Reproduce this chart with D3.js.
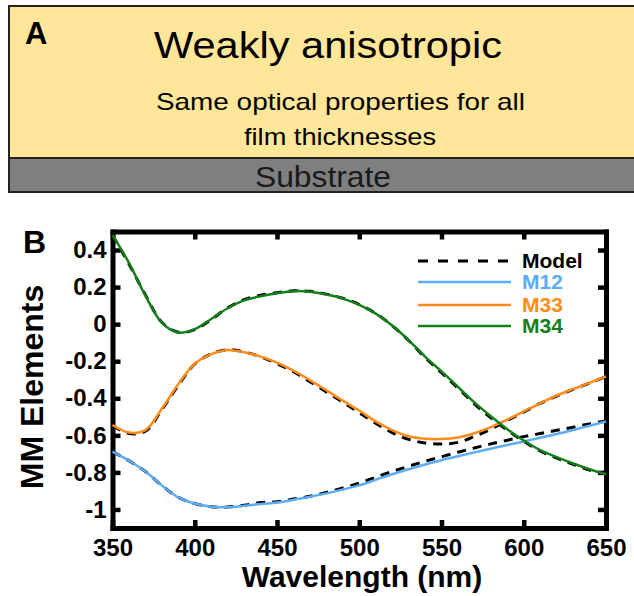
<!DOCTYPE html>
<html>
<head>
<meta charset="utf-8">
<style>
	body { margin: 0; background: white; }
	svg { display: block; font-family: "Liberation Sans", Arial, sans-serif; }
	.axis path { fill: none; stroke: black; stroke-width: 5px; stroke-linecap: square; }
	.axis line { stroke: black; stroke-width: 4.5px; }
	.axis text { font-size: 24px; font-weight: bold; fill: black; font-family: "Liberation Sans", Arial, sans-serif; }
	.curve { fill: none; stroke-width: 2.5px; }
	.model { fill: none; stroke: black; stroke-width: 3px; stroke-dasharray: 9,7; }
</style>
<script src="https://cdn.jsdelivr.net/npm/d3@7"></script>
</head>
<body>
<script>
	// wavelengths (nm) and Mueller matrix elements
	var wavelength = [350, 360, 370, 380, 390, 400, 410, 420, 430, 440, 450, 460, 470, 480, 490, 500,
	                  510, 520, 530, 540, 550, 560, 570, 580, 590, 600, 610, 620, 630, 640, 650];

	var m12 = [-0.688, -0.737, -0.795, -0.870, -0.935, -0.968, -0.985, -0.988, -0.980, -0.970, -0.963,
	           -0.947, -0.931, -0.913, -0.892, -0.870, -0.840, -0.810, -0.783, -0.757, -0.734, -0.713,
	           -0.692, -0.672, -0.652, -0.633, -0.613, -0.593, -0.571, -0.548, -0.525];
	var m33 = [-0.544, -0.585, -0.572, -0.457, -0.324, -0.214, -0.162, -0.139, -0.152, -0.175, -0.208,
	           -0.251, -0.302, -0.357, -0.413, -0.466, -0.525, -0.572, -0.605, -0.618, -0.620, -0.612,
	           -0.589, -0.556, -0.515, -0.471, -0.427, -0.385, -0.351, -0.317, -0.282];
	var m34 = [0.480, 0.331, 0.154, 0.008, -0.046, -0.027, 0.028, 0.086, 0.128, 0.151, 0.167, 0.178,
	           0.175, 0.160, 0.138, 0.104, 0.057, -0.007, -0.086, -0.175, -0.255, -0.338, -0.422,
	           -0.497, -0.567, -0.628, -0.680, -0.718, -0.752, -0.783, -0.810];

	var model12 = [-0.688, -0.737, -0.795, -0.870, -0.935, -0.968, -0.985, -0.987, -0.977, -0.963, -0.958,
	               -0.944, -0.929, -0.908, -0.884, -0.858, -0.826, -0.795, -0.767, -0.740, -0.715, -0.691,
	               -0.668, -0.646, -0.626, -0.607, -0.590, -0.573, -0.556, -0.538, -0.522];
	var model33 = [-0.548, -0.590, -0.578, -0.462, -0.330, -0.215, -0.160, -0.138, -0.150, -0.176, -0.213,
	               -0.257, -0.310, -0.366, -0.420, -0.478, -0.535, -0.585, -0.622, -0.641, -0.647, -0.638,
	               -0.606, -0.566, -0.520, -0.474, -0.428, -0.388, -0.352, -0.318, -0.283];
	var model34 = [0.480, 0.325, 0.158, 0.010, -0.044, -0.030, 0.025, 0.088, 0.132, 0.156, 0.170, 0.180,
	               0.177, 0.162, 0.140, 0.106, 0.058, -0.008, -0.088, -0.180, -0.262, -0.345, -0.430,
	               -0.505, -0.572, -0.632, -0.684, -0.722, -0.756, -0.787, -0.810];

	var xTicks = [350, 400, 450, 500, 550, 600, 650];
	var yTicks = [0.4, 0.2, 0, -0.2, -0.4, -0.6, -0.8, -1];

	var legendLabels = ["Model", "M12", "M33", "M34"];
	var seriesColors = ["black", "#5aacf4", "#ff8c1a", "#13801a"];

	function draw() {
		"use strict";
		var width = 634, height = 596;

		var svg = d3.select("body")
		  .append("svg")
		    .attr("width", width)
		    .attr("height", height);

		// ---- panel A : layer sketch ----
		var a = svg.append("g");
		a.append("rect")
			.attr("x", 9).attr("y", 6).attr("width", 640).attr("height", 152)
			.attr("fill", "#ffe699").attr("stroke", "#222").attr("stroke-width", 2);
		a.append("rect")
			.attr("x", 9).attr("y", 158).attr("width", 640).attr("height", 34)
			.attr("fill", "#7f7f7f").attr("stroke", "#222").attr("stroke-width", 2);

		a.append("text").attr("x", 25).attr("y", 44)
			.style("font-size", "31px").style("font-weight", "bold").text("A");
		a.append("text").attr("x", 154).attr("y", 58)
			.attr("textLength", 348).attr("lengthAdjust", "spacingAndGlyphs")
			.style("font-size", "37px").text("Weakly anisotropic");
		a.append("text").attr("x", 156).attr("y", 110)
			.attr("textLength", 369).attr("lengthAdjust", "spacingAndGlyphs")
			.style("font-size", "24px").text("Same optical properties for all");
		a.append("text").attr("x", 244).attr("y", 145)
			.attr("textLength", 192).attr("lengthAdjust", "spacingAndGlyphs")
			.style("font-size", "24px").text("film thicknesses");
		a.append("text").attr("x", 255).attr("y", 187)
			.attr("textLength", 136).attr("lengthAdjust", "spacingAndGlyphs")
			.style("font-size", "29px").style("fill", "#1a1a1a").text("Substrate");

		// ---- panel B : MM spectra ----
		var x_scale = d3.scaleLinear().domain([350, 650]).range([112.5, 606]);
		var y_scale = d3.scaleLinear().domain([-1.1, 0.5]).range([528, 231.5]);

		var fmt = function(d){ return String(d); };

		svg.append("g").attr("class", "x axis")
			.attr("transform", "translate(0,528)")
			.call(d3.axisBottom(x_scale).tickValues(xTicks).tickSize(-8).tickSizeOuter(0).tickPadding(11).tickFormat(fmt));
		svg.append("g").attr("class", "x axis top")
			.attr("transform", "translate(0,231.5)")
			.call(d3.axisTop(x_scale).tickValues(xTicks).tickSize(-8).tickSizeOuter(0).tickFormat(""));
		svg.append("g").attr("class", "y axis")
			.attr("transform", "translate(112.5,0)")
			.call(d3.axisLeft(y_scale).tickValues(yTicks).tickSize(-8).tickSizeOuter(0).tickPadding(6).tickFormat(fmt));
		svg.append("g").attr("class", "y axis right")
			.attr("transform", "translate(606,0)")
			.call(d3.axisRight(y_scale).tickValues(yTicks).tickSize(-8).tickSizeOuter(0).tickFormat(""));

		var line = function(vals) {
			return d3.line()
				.x(function(d, i){ return x_scale(wavelength[i]); })
				.y(function(d){ return y_scale(d); })
				.curve(d3.curveCatmullRom.alpha(0.5))(vals);
		};

		[model12, model33, model34].forEach(function(s){
			svg.append("path").attr("class", "model").attr("d", line(s));
		});
		[m12, m33, m34].forEach(function(s, i){
			svg.append("path").attr("class", "curve")
				.attr("stroke", seriesColors[i + 1]).attr("d", line(s));
		});

		// legend
		var legY = [261, 282, 305, 326];
		var leg = svg.append("g").selectAll("g").data(legendLabels).enter().append("g");
		leg.append("line")
			.attr("x1", 418).attr("x2", 511)
			.attr("y1", function(d, i){ return legY[i]; })
			.attr("y2", function(d, i){ return legY[i]; })
			.attr("stroke", function(d, i){ return seriesColors[i]; })
			.attr("stroke-width", function(d, i){ return i === 0 ? 3 : 2.5; })
			.attr("stroke-dasharray", function(d, i){ return i === 0 ? "10,10" : null; });
		leg.append("text")
			.attr("x", 522)
			.attr("y", function(d, i){ return legY[i] + 7; })
			.style("font-size", "21px").style("font-weight", "bold")
			.style("fill", function(d, i){ return seriesColors[i]; })
			.text(function(d){ return d; });

		svg.append("text").attr("x", 23).attr("y", 253)
			.style("font-size", "32px").style("font-weight", "bold").text("B");
		svg.append("text")
			.attr("transform", "translate(43,387) rotate(-90)")
			.attr("text-anchor", "middle")
			.style("font-size", "32px").style("font-weight", "bold").text("MM Elements");
		svg.append("text").attr("x", 362).attr("y", 587)
			.attr("text-anchor", "middle")
			.style("font-size", "30px").style("font-weight", "bold").text("Wavelength (nm)");
	}
	draw();
</script>
</body>
</html>
